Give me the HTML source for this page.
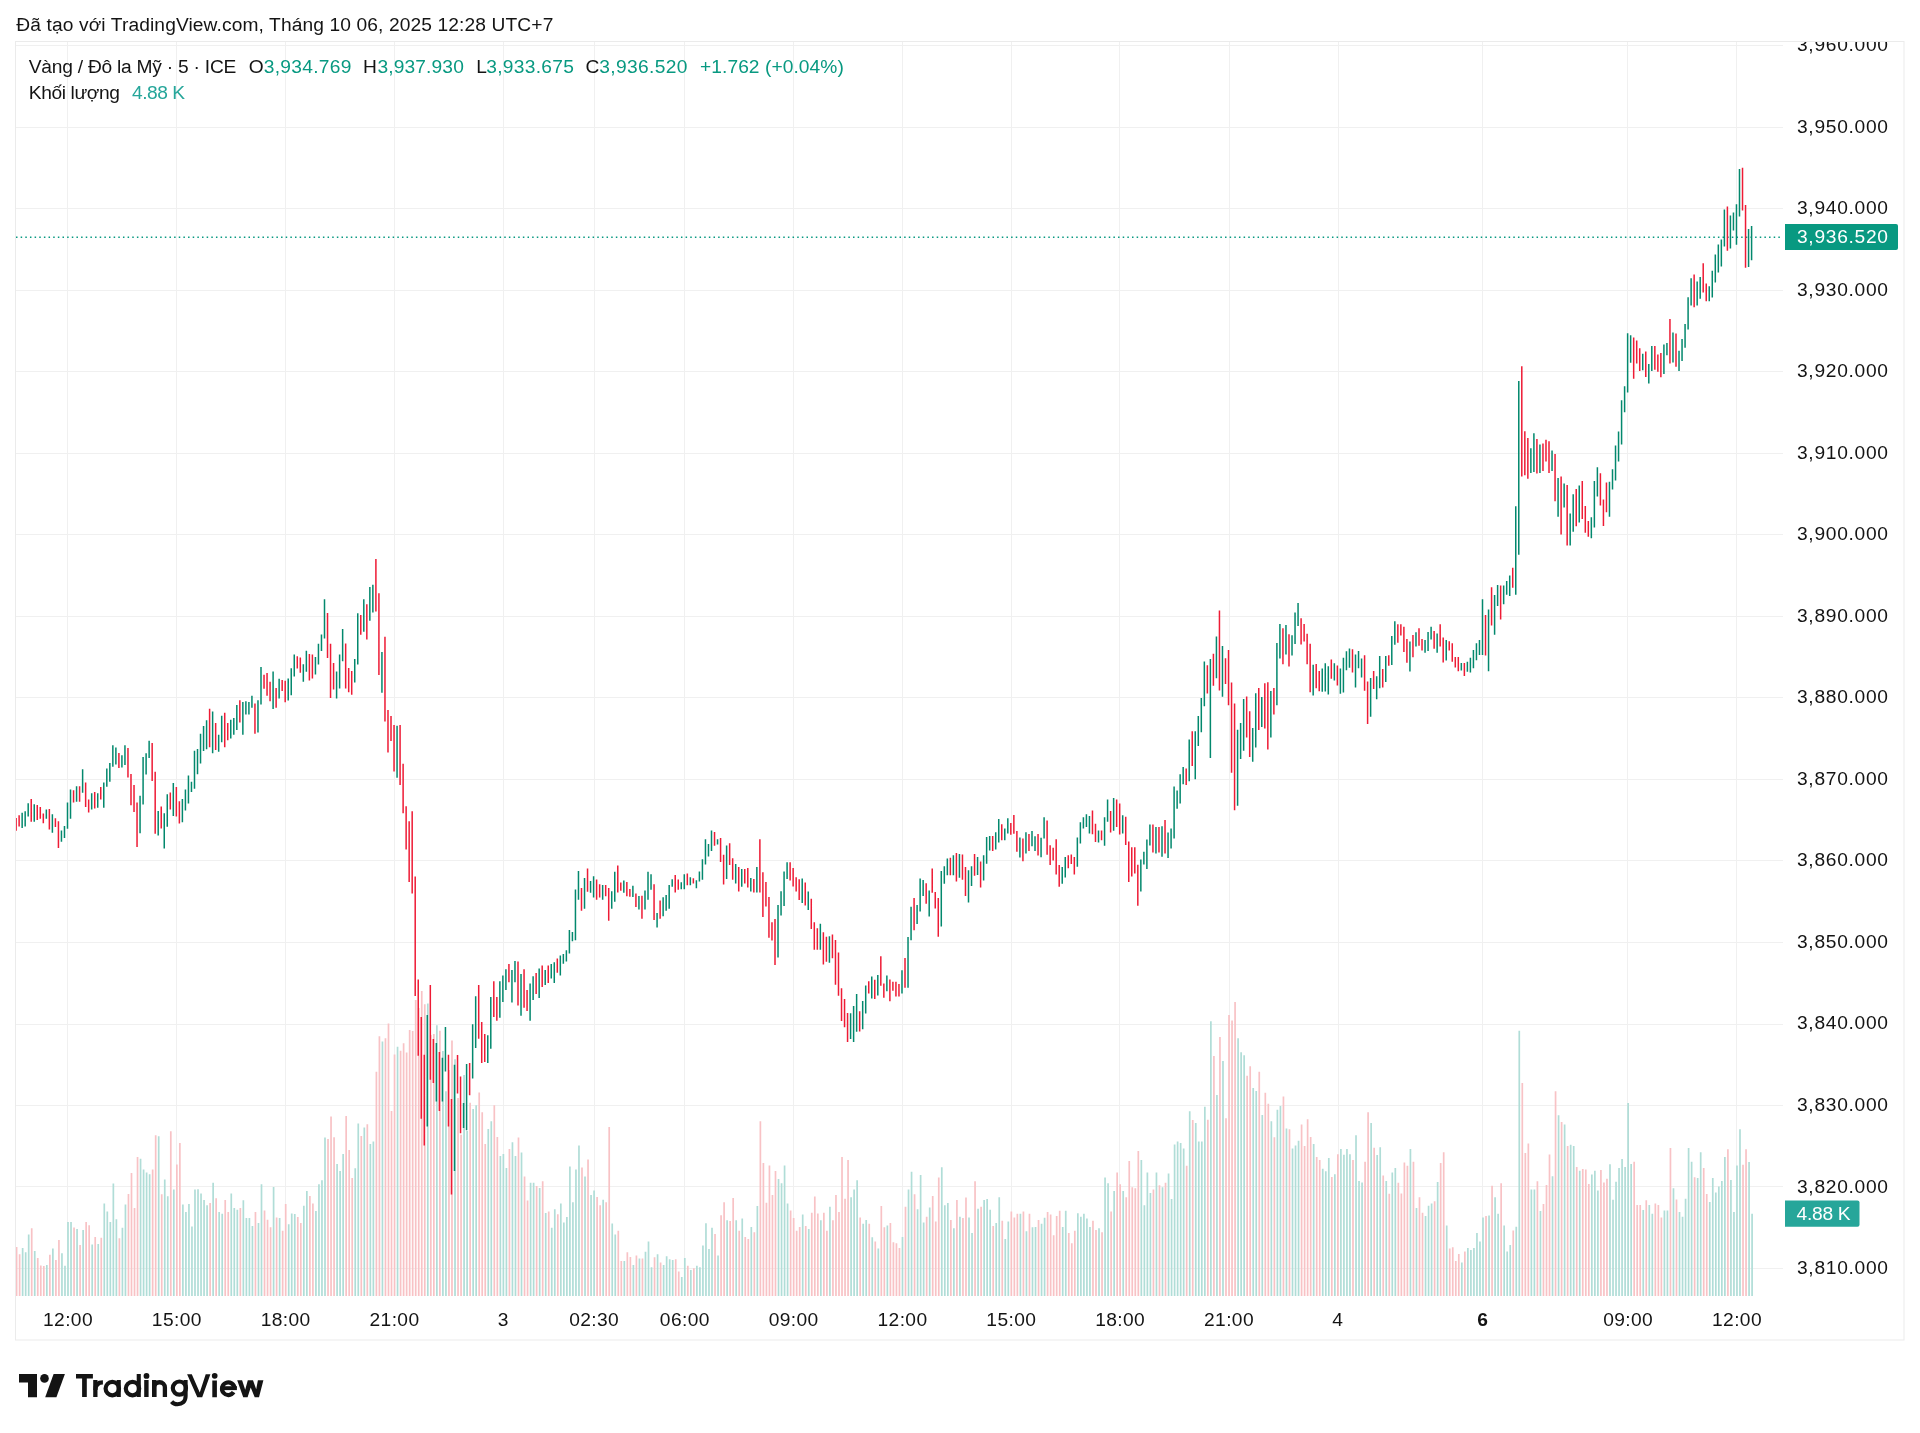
<!DOCTYPE html>
<html><head><meta charset="utf-8"><title>XAUUSD</title><style>
html,body{margin:0;padding:0;background:#fff;width:1920px;height:1433px;overflow:hidden}
svg{position:absolute;left:0;top:0;will-change:transform}
text{font-family:"Liberation Sans",sans-serif}
</style></head><body>
<svg width="1920" height="1433" viewBox="0 0 1920 1433">
<rect width="1920" height="1433" fill="#fff"/>
<text x="16.3" y="30.9" font-size="19.2" fill="#141414" textLength="537" lengthAdjust="spacing">Đã tạo với TradingView.com, Tháng 10 06, 2025 12:28 UTC+7</text>
<rect x="15.5" y="41.5" width="1888.5" height="1298.5" fill="none" stroke="#EBEBEB" stroke-width="1"/>
<clipPath id="pane"><rect x="16" y="42" width="1767" height="1254"/></clipPath>
<clipPath id="axis"><rect x="1783" y="42" width="121" height="1297"/></clipPath>
<path d="M16 45.5H1783 M16 127.5H1783 M16 208.5H1783 M16 290.5H1783 M16 371.5H1783 M16 453.5H1783 M16 534.5H1783 M16 616.5H1783 M16 697.5H1783 M16 779.5H1783 M16 860.5H1783 M16 942.5H1783 M16 1024.5H1783 M16 1105.5H1783 M16 1186.5H1783 M16 1268.5H1783 M67.5 42V1296 M176.5 42V1296 M285.5 42V1296 M394.5 42V1296 M503.5 42V1296 M594.5 42V1296 M684.5 42V1296 M793.5 42V1296 M902.5 42V1296 M1011.5 42V1296 M1119.5 42V1296 M1229.5 42V1296 M1338.5 42V1296 M1482.5 42V1296 M1627.5 42V1296 M1736.5 42V1296" stroke="#F0F0F0" stroke-width="1" fill="none"/>
<g clip-path="url(#pane)">
<path d="M21.80 1248.1h1.7V1296h-1.7ZM24.82 1252.2h1.7V1296h-1.7ZM27.84 1234.6h1.7V1296h-1.7ZM33.89 1250.9h1.7V1296h-1.7ZM45.98 1265.1h1.7V1296h-1.7ZM52.03 1248.4h1.7V1296h-1.7ZM61.10 1253.2h1.7V1296h-1.7ZM64.13 1265.7h1.7V1296h-1.7ZM67.15 1222.0h1.7V1296h-1.7ZM70.17 1222.0h1.7V1296h-1.7ZM76.22 1229.0h1.7V1296h-1.7ZM82.27 1229.9h1.7V1296h-1.7ZM91.34 1244.6h1.7V1296h-1.7ZM97.38 1244.1h1.7V1296h-1.7ZM103.43 1203.5h1.7V1296h-1.7ZM106.46 1211.5h1.7V1296h-1.7ZM109.48 1222.0h1.7V1296h-1.7ZM112.50 1183.4h1.7V1296h-1.7ZM115.53 1219.2h1.7V1296h-1.7ZM121.57 1227.8h1.7V1296h-1.7ZM124.60 1204.4h1.7V1296h-1.7ZM139.71 1158.8h1.7V1296h-1.7ZM142.74 1169.4h1.7V1296h-1.7ZM145.76 1172.6h1.7V1296h-1.7ZM148.78 1174.3h1.7V1296h-1.7ZM157.85 1136.3h1.7V1296h-1.7ZM163.90 1179.6h1.7V1296h-1.7ZM166.92 1196.2h1.7V1296h-1.7ZM172.97 1189.6h1.7V1296h-1.7ZM182.04 1204.4h1.7V1296h-1.7ZM185.07 1212.1h1.7V1296h-1.7ZM188.09 1203.9h1.7V1296h-1.7ZM191.11 1226.4h1.7V1296h-1.7ZM194.14 1189.6h1.7V1296h-1.7ZM197.16 1189.3h1.7V1296h-1.7ZM200.18 1193.5h1.7V1296h-1.7ZM203.21 1199.9h1.7V1296h-1.7ZM206.23 1205.2h1.7V1296h-1.7ZM212.28 1182.7h1.7V1296h-1.7ZM218.32 1212.1h1.7V1296h-1.7ZM221.35 1213.7h1.7V1296h-1.7ZM230.42 1193.5h1.7V1296h-1.7ZM233.44 1208.1h1.7V1296h-1.7ZM236.47 1209.7h1.7V1296h-1.7ZM242.51 1200.2h1.7V1296h-1.7ZM245.54 1218.1h1.7V1296h-1.7ZM248.56 1218.1h1.7V1296h-1.7ZM251.58 1226.0h1.7V1296h-1.7ZM257.63 1223.0h1.7V1296h-1.7ZM260.65 1184.3h1.7V1296h-1.7ZM272.75 1186.9h1.7V1296h-1.7ZM278.79 1218.1h1.7V1296h-1.7ZM287.87 1224.3h1.7V1296h-1.7ZM290.89 1213.4h1.7V1296h-1.7ZM293.91 1214.1h1.7V1296h-1.7ZM302.98 1205.7h1.7V1296h-1.7ZM306.01 1191.1h1.7V1296h-1.7ZM315.08 1211.0h1.7V1296h-1.7ZM318.10 1184.3h1.7V1296h-1.7ZM321.12 1180.3h1.7V1296h-1.7ZM324.15 1137.6h1.7V1296h-1.7ZM336.24 1164.1h1.7V1296h-1.7ZM339.26 1171.0h1.7V1296h-1.7ZM342.29 1154.0h1.7V1296h-1.7ZM354.38 1168.3h1.7V1296h-1.7ZM357.41 1123.5h1.7V1296h-1.7ZM363.45 1127.5h1.7V1296h-1.7ZM369.50 1144.0h1.7V1296h-1.7ZM372.52 1141.4h1.7V1296h-1.7ZM381.59 1041.4h1.7V1296h-1.7ZM396.71 1046.8h1.7V1296h-1.7ZM436.02 1025.2h1.7V1296h-1.7ZM426.95 1003.4h1.7V1296h-1.7ZM442.06 1050.9h1.7V1296h-1.7ZM445.09 1091.2h1.7V1296h-1.7ZM454.16 1059.3h1.7V1296h-1.7ZM463.23 1075.0h1.7V1296h-1.7ZM466.25 1131.0h1.7V1296h-1.7ZM472.30 1109.0h1.7V1296h-1.7ZM475.32 1105.2h1.7V1296h-1.7ZM487.42 1128.9h1.7V1296h-1.7ZM490.44 1121.3h1.7V1296h-1.7ZM499.51 1156.1h1.7V1296h-1.7ZM502.53 1154.0h1.7V1296h-1.7ZM505.56 1168.0h1.7V1296h-1.7ZM511.60 1142.2h1.7V1296h-1.7ZM514.63 1156.1h1.7V1296h-1.7ZM520.67 1152.4h1.7V1296h-1.7ZM529.75 1182.8h1.7V1296h-1.7ZM532.77 1182.8h1.7V1296h-1.7ZM538.82 1188.1h1.7V1296h-1.7ZM544.86 1213.0h1.7V1296h-1.7ZM550.91 1227.8h1.7V1296h-1.7ZM553.93 1209.2h1.7V1296h-1.7ZM559.98 1203.5h1.7V1296h-1.7ZM563.00 1222.4h1.7V1296h-1.7ZM566.03 1217.0h1.7V1296h-1.7ZM569.05 1166.5h1.7V1296h-1.7ZM572.07 1202.3h1.7V1296h-1.7ZM575.10 1169.6h1.7V1296h-1.7ZM578.12 1145.4h1.7V1296h-1.7ZM584.17 1176.5h1.7V1296h-1.7ZM590.21 1195.1h1.7V1296h-1.7ZM593.24 1190.4h1.7V1296h-1.7ZM602.31 1199.8h1.7V1296h-1.7ZM611.38 1223.6h1.7V1296h-1.7ZM614.40 1234.6h1.7V1296h-1.7ZM623.47 1261.0h1.7V1296h-1.7ZM632.54 1265.1h1.7V1296h-1.7ZM638.59 1258.4h1.7V1296h-1.7ZM644.64 1251.7h1.7V1296h-1.7ZM647.66 1241.6h1.7V1296h-1.7ZM650.68 1267.2h1.7V1296h-1.7ZM656.73 1254.2h1.7V1296h-1.7ZM662.78 1265.1h1.7V1296h-1.7ZM665.80 1256.3h1.7V1296h-1.7ZM668.83 1259.2h1.7V1296h-1.7ZM671.85 1260.1h1.7V1296h-1.7ZM680.92 1277.0h1.7V1296h-1.7ZM683.94 1257.9h1.7V1296h-1.7ZM689.99 1270.1h1.7V1296h-1.7ZM696.04 1265.7h1.7V1296h-1.7ZM699.06 1267.2h1.7V1296h-1.7ZM702.08 1245.4h1.7V1296h-1.7ZM705.11 1223.3h1.7V1296h-1.7ZM708.13 1249.1h1.7V1296h-1.7ZM711.15 1227.8h1.7V1296h-1.7ZM717.20 1255.4h1.7V1296h-1.7ZM726.27 1220.3h1.7V1296h-1.7ZM735.34 1220.3h1.7V1296h-1.7ZM741.39 1218.6h1.7V1296h-1.7ZM750.46 1226.9h1.7V1296h-1.7ZM756.51 1206.1h1.7V1296h-1.7ZM777.67 1178.9h1.7V1296h-1.7ZM780.70 1183.2h1.7V1296h-1.7ZM783.72 1165.4h1.7V1296h-1.7ZM786.74 1203.5h1.7V1296h-1.7ZM801.86 1214.5h1.7V1296h-1.7ZM807.91 1229.1h1.7V1296h-1.7ZM820.00 1220.3h1.7V1296h-1.7ZM829.07 1206.8h1.7V1296h-1.7ZM850.24 1197.2h1.7V1296h-1.7ZM853.26 1189.6h1.7V1296h-1.7ZM856.28 1180.3h1.7V1296h-1.7ZM862.33 1223.8h1.7V1296h-1.7ZM865.35 1220.1h1.7V1296h-1.7ZM871.40 1237.3h1.7V1296h-1.7ZM877.45 1248.6h1.7V1296h-1.7ZM886.52 1225.4h1.7V1296h-1.7ZM901.64 1237.0h1.7V1296h-1.7ZM907.68 1189.6h1.7V1296h-1.7ZM910.71 1171.7h1.7V1296h-1.7ZM916.75 1209.2h1.7V1296h-1.7ZM919.78 1175.0h1.7V1296h-1.7ZM922.80 1222.4h1.7V1296h-1.7ZM928.85 1207.5h1.7V1296h-1.7ZM940.94 1167.3h1.7V1296h-1.7ZM943.96 1205.2h1.7V1296h-1.7ZM946.99 1203.1h1.7V1296h-1.7ZM953.03 1228.3h1.7V1296h-1.7ZM959.08 1216.7h1.7V1296h-1.7ZM968.15 1217.4h1.7V1296h-1.7ZM971.18 1233.0h1.7V1296h-1.7ZM977.22 1208.8h1.7V1296h-1.7ZM983.27 1199.9h1.7V1296h-1.7ZM986.29 1199.1h1.7V1296h-1.7ZM989.32 1209.7h1.7V1296h-1.7ZM995.36 1223.0h1.7V1296h-1.7ZM998.39 1197.2h1.7V1296h-1.7ZM1004.43 1238.9h1.7V1296h-1.7ZM1007.46 1221.4h1.7V1296h-1.7ZM1019.55 1213.7h1.7V1296h-1.7ZM1025.60 1231.3h1.7V1296h-1.7ZM1031.65 1227.3h1.7V1296h-1.7ZM1034.67 1226.9h1.7V1296h-1.7ZM1040.72 1223.8h1.7V1296h-1.7ZM1043.74 1217.7h1.7V1296h-1.7ZM1061.88 1226.9h1.7V1296h-1.7ZM1064.90 1210.8h1.7V1296h-1.7ZM1077.00 1213.2h1.7V1296h-1.7ZM1080.02 1216.7h1.7V1296h-1.7ZM1083.05 1213.7h1.7V1296h-1.7ZM1086.07 1218.5h1.7V1296h-1.7ZM1089.09 1226.9h1.7V1296h-1.7ZM1098.16 1228.3h1.7V1296h-1.7ZM1104.21 1177.4h1.7V1296h-1.7ZM1107.23 1183.2h1.7V1296h-1.7ZM1113.28 1191.1h1.7V1296h-1.7ZM1122.35 1191.1h1.7V1296h-1.7ZM1140.49 1160.1h1.7V1296h-1.7ZM1143.52 1205.2h1.7V1296h-1.7ZM1146.54 1172.6h1.7V1296h-1.7ZM1149.56 1192.9h1.7V1296h-1.7ZM1155.61 1172.6h1.7V1296h-1.7ZM1161.66 1187.2h1.7V1296h-1.7ZM1167.70 1173.4h1.7V1296h-1.7ZM1170.73 1199.1h1.7V1296h-1.7ZM1173.75 1144.5h1.7V1296h-1.7ZM1176.77 1141.6h1.7V1296h-1.7ZM1179.80 1143.1h1.7V1296h-1.7ZM1182.82 1148.5h1.7V1296h-1.7ZM1188.87 1111.3h1.7V1296h-1.7ZM1194.91 1123.0h1.7V1296h-1.7ZM1197.94 1141.6h1.7V1296h-1.7ZM1200.96 1141.6h1.7V1296h-1.7ZM1203.99 1106.7h1.7V1296h-1.7ZM1210.03 1021.3h1.7V1296h-1.7ZM1216.08 1095.0h1.7V1296h-1.7ZM1222.13 1060.9h1.7V1296h-1.7ZM1237.24 1038.2h1.7V1296h-1.7ZM1240.27 1052.3h1.7V1296h-1.7ZM1243.29 1055.3h1.7V1296h-1.7ZM1252.36 1088.0h1.7V1296h-1.7ZM1255.38 1091.0h1.7V1296h-1.7ZM1261.43 1115.1h1.7V1296h-1.7ZM1270.50 1121.2h1.7V1296h-1.7ZM1276.55 1109.7h1.7V1296h-1.7ZM1279.57 1105.9h1.7V1296h-1.7ZM1285.62 1128.6h1.7V1296h-1.7ZM1291.67 1148.6h1.7V1296h-1.7ZM1294.69 1145.4h1.7V1296h-1.7ZM1297.71 1140.8h1.7V1296h-1.7ZM1312.83 1144.0h1.7V1296h-1.7ZM1321.90 1168.7h1.7V1296h-1.7ZM1324.93 1171.2h1.7V1296h-1.7ZM1327.95 1157.9h1.7V1296h-1.7ZM1334.00 1174.2h1.7V1296h-1.7ZM1340.04 1149.1h1.7V1296h-1.7ZM1343.07 1154.7h1.7V1296h-1.7ZM1346.09 1149.1h1.7V1296h-1.7ZM1349.11 1154.2h1.7V1296h-1.7ZM1355.16 1135.2h1.7V1296h-1.7ZM1358.18 1180.9h1.7V1296h-1.7ZM1361.21 1182.6h1.7V1296h-1.7ZM1370.28 1123.0h1.7V1296h-1.7ZM1376.33 1155.1h1.7V1296h-1.7ZM1379.35 1147.2h1.7V1296h-1.7ZM1385.40 1180.9h1.7V1296h-1.7ZM1391.44 1172.6h1.7V1296h-1.7ZM1394.47 1168.1h1.7V1296h-1.7ZM1409.58 1149.1h1.7V1296h-1.7ZM1415.63 1208.1h1.7V1296h-1.7ZM1424.70 1216.1h1.7V1296h-1.7ZM1427.72 1205.7h1.7V1296h-1.7ZM1430.75 1203.5h1.7V1296h-1.7ZM1436.79 1181.9h1.7V1296h-1.7ZM1445.87 1225.4h1.7V1296h-1.7ZM1460.98 1262.5h1.7V1296h-1.7ZM1467.03 1247.9h1.7V1296h-1.7ZM1470.05 1249.9h1.7V1296h-1.7ZM1473.08 1247.9h1.7V1296h-1.7ZM1476.10 1233.0h1.7V1296h-1.7ZM1479.12 1241.5h1.7V1296h-1.7ZM1482.15 1217.4h1.7V1296h-1.7ZM1488.19 1215.4h1.7V1296h-1.7ZM1494.24 1197.2h1.7V1296h-1.7ZM1497.26 1213.7h1.7V1296h-1.7ZM1503.31 1225.4h1.7V1296h-1.7ZM1506.34 1251.6h1.7V1296h-1.7ZM1509.36 1245.0h1.7V1296h-1.7ZM1515.41 1226.7h1.7V1296h-1.7ZM1518.43 1030.7h1.7V1296h-1.7ZM1530.52 1189.6h1.7V1296h-1.7ZM1533.55 1189.6h1.7V1296h-1.7ZM1539.59 1211.1h1.7V1296h-1.7ZM1551.69 1176.3h1.7V1296h-1.7ZM1557.73 1115.3h1.7V1296h-1.7ZM1563.78 1124.5h1.7V1296h-1.7ZM1569.83 1144.7h1.7V1296h-1.7ZM1572.85 1146.0h1.7V1296h-1.7ZM1578.90 1170.8h1.7V1296h-1.7ZM1590.99 1174.4h1.7V1296h-1.7ZM1594.02 1170.8h1.7V1296h-1.7ZM1597.04 1190.4h1.7V1296h-1.7ZM1609.13 1164.2h1.7V1296h-1.7ZM1612.16 1199.8h1.7V1296h-1.7ZM1615.18 1181.8h1.7V1296h-1.7ZM1618.20 1168.1h1.7V1296h-1.7ZM1621.23 1159.1h1.7V1296h-1.7ZM1624.25 1166.9h1.7V1296h-1.7ZM1627.28 1102.9h1.7V1296h-1.7ZM1630.30 1164.0h1.7V1296h-1.7ZM1642.39 1209.9h1.7V1296h-1.7ZM1648.44 1205.0h1.7V1296h-1.7ZM1651.46 1213.8h1.7V1296h-1.7ZM1663.56 1210.5h1.7V1296h-1.7ZM1666.58 1210.5h1.7V1296h-1.7ZM1672.63 1188.2h1.7V1296h-1.7ZM1678.67 1211.9h1.7V1296h-1.7ZM1681.70 1216.8h1.7V1296h-1.7ZM1684.72 1198.7h1.7V1296h-1.7ZM1687.75 1147.9h1.7V1296h-1.7ZM1690.77 1161.8h1.7V1296h-1.7ZM1696.82 1177.9h1.7V1296h-1.7ZM1699.84 1152.3h1.7V1296h-1.7ZM1708.91 1202.1h1.7V1296h-1.7ZM1711.93 1177.9h1.7V1296h-1.7ZM1714.96 1192.6h1.7V1296h-1.7ZM1717.98 1186.4h1.7V1296h-1.7ZM1721.00 1181.1h1.7V1296h-1.7ZM1724.03 1157.1h1.7V1296h-1.7ZM1730.07 1180.1h1.7V1296h-1.7ZM1733.10 1211.9h1.7V1296h-1.7ZM1736.12 1165.5h1.7V1296h-1.7ZM1739.14 1129.3h1.7V1296h-1.7ZM1748.22 1162.1h1.7V1296h-1.7ZM1751.24 1213.8h1.7V1296h-1.7Z" fill="#B0DDD7"/>
<path d="M15.75 1247.1h1.7V1296h-1.7ZM18.77 1254.2h1.7V1296h-1.7ZM30.87 1228.3h1.7V1296h-1.7ZM36.91 1257.9h1.7V1296h-1.7ZM39.94 1265.5h1.7V1296h-1.7ZM42.96 1266.0h1.7V1296h-1.7ZM49.01 1254.7h1.7V1296h-1.7ZM55.06 1260.1h1.7V1296h-1.7ZM58.08 1240.0h1.7V1296h-1.7ZM73.20 1227.4h1.7V1296h-1.7ZM79.24 1245.0h1.7V1296h-1.7ZM85.29 1222.0h1.7V1296h-1.7ZM88.31 1225.3h1.7V1296h-1.7ZM94.36 1237.1h1.7V1296h-1.7ZM100.41 1237.8h1.7V1296h-1.7ZM118.55 1238.3h1.7V1296h-1.7ZM127.62 1194.1h1.7V1296h-1.7ZM130.64 1173.0h1.7V1296h-1.7ZM133.67 1208.1h1.7V1296h-1.7ZM136.69 1157.1h1.7V1296h-1.7ZM151.81 1169.4h1.7V1296h-1.7ZM154.83 1135.2h1.7V1296h-1.7ZM160.88 1194.2h1.7V1296h-1.7ZM169.95 1131.2h1.7V1296h-1.7ZM176.00 1164.6h1.7V1296h-1.7ZM179.02 1143.1h1.7V1296h-1.7ZM209.25 1203.1h1.7V1296h-1.7ZM215.30 1198.2h1.7V1296h-1.7ZM224.37 1199.9h1.7V1296h-1.7ZM227.39 1212.1h1.7V1296h-1.7ZM239.49 1208.1h1.7V1296h-1.7ZM254.61 1212.1h1.7V1296h-1.7ZM263.68 1210.5h1.7V1296h-1.7ZM266.70 1219.8h1.7V1296h-1.7ZM269.72 1227.3h1.7V1296h-1.7ZM275.77 1217.4h1.7V1296h-1.7ZM281.82 1230.7h1.7V1296h-1.7ZM284.84 1204.1h1.7V1296h-1.7ZM296.94 1217.1h1.7V1296h-1.7ZM299.96 1223.0h1.7V1296h-1.7ZM309.03 1195.9h1.7V1296h-1.7ZM312.05 1203.5h1.7V1296h-1.7ZM327.17 1138.9h1.7V1296h-1.7ZM330.19 1116.6h1.7V1296h-1.7ZM333.22 1137.2h1.7V1296h-1.7ZM345.31 1116.0h1.7V1296h-1.7ZM348.33 1150.0h1.7V1296h-1.7ZM351.36 1177.9h1.7V1296h-1.7ZM360.43 1135.9h1.7V1296h-1.7ZM366.48 1124.3h1.7V1296h-1.7ZM375.55 1071.8h1.7V1296h-1.7ZM378.57 1036.2h1.7V1296h-1.7ZM384.62 1038.3h1.7V1296h-1.7ZM387.64 1023.6h1.7V1296h-1.7ZM390.66 1111.0h1.7V1296h-1.7ZM393.69 1054.5h1.7V1296h-1.7ZM399.73 1050.8h1.7V1296h-1.7ZM402.76 1043.3h1.7V1296h-1.7ZM405.78 1052.4h1.7V1296h-1.7ZM408.81 1029.9h1.7V1296h-1.7ZM411.83 1030.9h1.7V1296h-1.7ZM432.99 1033.9h1.7V1296h-1.7ZM439.04 1030.7h1.7V1296h-1.7ZM414.85 1000.0h1.7V1296h-1.7ZM417.88 1008.0h1.7V1296h-1.7ZM420.90 991.0h1.7V1296h-1.7ZM423.92 1004.2h1.7V1296h-1.7ZM429.97 1035.0h1.7V1296h-1.7ZM448.11 1070.0h1.7V1296h-1.7ZM451.13 1040.5h1.7V1296h-1.7ZM457.18 1098.0h1.7V1296h-1.7ZM460.20 1134.7h1.7V1296h-1.7ZM469.27 1102.8h1.7V1296h-1.7ZM478.35 1092.6h1.7V1296h-1.7ZM481.37 1112.2h1.7V1296h-1.7ZM484.39 1143.9h1.7V1296h-1.7ZM493.46 1105.2h1.7V1296h-1.7ZM496.49 1137.0h1.7V1296h-1.7ZM508.58 1149.1h1.7V1296h-1.7ZM517.65 1137.6h1.7V1296h-1.7ZM523.70 1176.5h1.7V1296h-1.7ZM526.72 1200.4h1.7V1296h-1.7ZM535.79 1186.0h1.7V1296h-1.7ZM541.84 1181.3h1.7V1296h-1.7ZM547.89 1211.5h1.7V1296h-1.7ZM556.96 1214.2h1.7V1296h-1.7ZM581.14 1167.5h1.7V1296h-1.7ZM587.19 1159.6h1.7V1296h-1.7ZM596.26 1196.9h1.7V1296h-1.7ZM599.29 1205.2h1.7V1296h-1.7ZM605.33 1202.3h1.7V1296h-1.7ZM608.36 1126.9h1.7V1296h-1.7ZM617.43 1230.8h1.7V1296h-1.7ZM620.45 1261.0h1.7V1296h-1.7ZM626.50 1252.2h1.7V1296h-1.7ZM629.52 1256.9h1.7V1296h-1.7ZM635.57 1255.4h1.7V1296h-1.7ZM641.61 1258.4h1.7V1296h-1.7ZM653.71 1257.2h1.7V1296h-1.7ZM659.76 1262.6h1.7V1296h-1.7ZM674.87 1259.2h1.7V1296h-1.7ZM677.90 1271.4h1.7V1296h-1.7ZM686.97 1265.7h1.7V1296h-1.7ZM693.01 1268.2h1.7V1296h-1.7ZM714.18 1234.1h1.7V1296h-1.7ZM720.23 1215.2h1.7V1296h-1.7ZM723.25 1202.3h1.7V1296h-1.7ZM729.30 1221.1h1.7V1296h-1.7ZM732.32 1198.1h1.7V1296h-1.7ZM738.37 1230.8h1.7V1296h-1.7ZM744.41 1237.1h1.7V1296h-1.7ZM747.44 1238.9h1.7V1296h-1.7ZM753.48 1232.2h1.7V1296h-1.7ZM759.53 1121.3h1.7V1296h-1.7ZM762.55 1163.0h1.7V1296h-1.7ZM765.58 1202.8h1.7V1296h-1.7ZM768.60 1165.4h1.7V1296h-1.7ZM771.62 1194.9h1.7V1296h-1.7ZM774.65 1171.0h1.7V1296h-1.7ZM789.77 1210.5h1.7V1296h-1.7ZM792.79 1218.1h1.7V1296h-1.7ZM795.81 1230.7h1.7V1296h-1.7ZM798.84 1226.9h1.7V1296h-1.7ZM804.88 1226.0h1.7V1296h-1.7ZM810.93 1212.8h1.7V1296h-1.7ZM813.95 1196.4h1.7V1296h-1.7ZM816.98 1213.4h1.7V1296h-1.7ZM823.02 1212.8h1.7V1296h-1.7ZM826.05 1230.7h1.7V1296h-1.7ZM832.09 1220.3h1.7V1296h-1.7ZM835.12 1195.1h1.7V1296h-1.7ZM838.14 1212.1h1.7V1296h-1.7ZM841.17 1157.1h1.7V1296h-1.7ZM844.19 1198.8h1.7V1296h-1.7ZM847.21 1160.1h1.7V1296h-1.7ZM859.31 1217.4h1.7V1296h-1.7ZM868.38 1223.8h1.7V1296h-1.7ZM874.42 1241.5h1.7V1296h-1.7ZM880.47 1206.1h1.7V1296h-1.7ZM883.49 1227.3h1.7V1296h-1.7ZM889.54 1223.0h1.7V1296h-1.7ZM892.56 1242.3h1.7V1296h-1.7ZM895.59 1243.3h1.7V1296h-1.7ZM898.61 1247.9h1.7V1296h-1.7ZM904.66 1206.8h1.7V1296h-1.7ZM913.73 1194.2h1.7V1296h-1.7ZM925.82 1216.7h1.7V1296h-1.7ZM931.87 1195.9h1.7V1296h-1.7ZM934.89 1221.4h1.7V1296h-1.7ZM937.92 1177.4h1.7V1296h-1.7ZM950.01 1220.1h1.7V1296h-1.7ZM956.06 1199.9h1.7V1296h-1.7ZM962.11 1218.1h1.7V1296h-1.7ZM965.13 1197.5h1.7V1296h-1.7ZM974.20 1181.3h1.7V1296h-1.7ZM980.25 1206.8h1.7V1296h-1.7ZM992.34 1226.0h1.7V1296h-1.7ZM1001.41 1220.7h1.7V1296h-1.7ZM1010.48 1211.4h1.7V1296h-1.7ZM1013.50 1217.4h1.7V1296h-1.7ZM1016.53 1213.7h1.7V1296h-1.7ZM1022.58 1211.4h1.7V1296h-1.7ZM1028.62 1213.7h1.7V1296h-1.7ZM1037.69 1220.1h1.7V1296h-1.7ZM1046.76 1212.1h1.7V1296h-1.7ZM1049.79 1214.5h1.7V1296h-1.7ZM1052.81 1235.3h1.7V1296h-1.7ZM1055.83 1216.1h1.7V1296h-1.7ZM1058.86 1210.8h1.7V1296h-1.7ZM1067.93 1233.0h1.7V1296h-1.7ZM1070.95 1243.3h1.7V1296h-1.7ZM1073.97 1230.7h1.7V1296h-1.7ZM1092.12 1220.7h1.7V1296h-1.7ZM1095.14 1230.0h1.7V1296h-1.7ZM1101.19 1232.2h1.7V1296h-1.7ZM1110.26 1211.4h1.7V1296h-1.7ZM1116.30 1172.6h1.7V1296h-1.7ZM1119.33 1184.3h1.7V1296h-1.7ZM1125.37 1197.2h1.7V1296h-1.7ZM1128.40 1161.0h1.7V1296h-1.7ZM1131.42 1187.2h1.7V1296h-1.7ZM1134.44 1188.2h1.7V1296h-1.7ZM1137.47 1151.1h1.7V1296h-1.7ZM1152.59 1189.6h1.7V1296h-1.7ZM1158.63 1185.3h1.7V1296h-1.7ZM1164.68 1182.7h1.7V1296h-1.7ZM1185.84 1165.7h1.7V1296h-1.7ZM1191.89 1119.9h1.7V1296h-1.7ZM1207.01 1119.7h1.7V1296h-1.7ZM1213.06 1056.1h1.7V1296h-1.7ZM1219.10 1036.9h1.7V1296h-1.7ZM1225.15 1118.2h1.7V1296h-1.7ZM1228.17 1015.1h1.7V1296h-1.7ZM1231.20 1020.4h1.7V1296h-1.7ZM1234.22 1002.1h1.7V1296h-1.7ZM1246.31 1075.8h1.7V1296h-1.7ZM1249.34 1066.2h1.7V1296h-1.7ZM1258.41 1071.7h1.7V1296h-1.7ZM1264.46 1092.7h1.7V1296h-1.7ZM1267.48 1103.7h1.7V1296h-1.7ZM1273.53 1137.2h1.7V1296h-1.7ZM1282.60 1096.6h1.7V1296h-1.7ZM1288.64 1129.3h1.7V1296h-1.7ZM1300.74 1124.4h1.7V1296h-1.7ZM1303.76 1146.1h1.7V1296h-1.7ZM1306.78 1119.3h1.7V1296h-1.7ZM1309.81 1137.0h1.7V1296h-1.7ZM1315.86 1156.9h1.7V1296h-1.7ZM1318.88 1160.0h1.7V1296h-1.7ZM1330.97 1177.0h1.7V1296h-1.7ZM1337.02 1154.2h1.7V1296h-1.7ZM1352.14 1160.0h1.7V1296h-1.7ZM1364.23 1161.7h1.7V1296h-1.7ZM1367.25 1112.3h1.7V1296h-1.7ZM1373.30 1147.7h1.7V1296h-1.7ZM1382.37 1175.6h1.7V1296h-1.7ZM1388.42 1193.8h1.7V1296h-1.7ZM1400.51 1193.5h1.7V1296h-1.7ZM1403.54 1162.4h1.7V1296h-1.7ZM1406.56 1165.7h1.7V1296h-1.7ZM1412.61 1161.7h1.7V1296h-1.7ZM1418.65 1197.2h1.7V1296h-1.7ZM1421.68 1212.8h1.7V1296h-1.7ZM1433.77 1201.2h1.7V1296h-1.7ZM1439.82 1163.0h1.7V1296h-1.7ZM1442.84 1152.2h1.7V1296h-1.7ZM1448.89 1248.6h1.7V1296h-1.7ZM1451.91 1247.2h1.7V1296h-1.7ZM1454.94 1260.9h1.7V1296h-1.7ZM1457.96 1253.9h1.7V1296h-1.7ZM1464.01 1251.6h1.7V1296h-1.7ZM1485.17 1216.1h1.7V1296h-1.7ZM1491.22 1185.8h1.7V1296h-1.7ZM1500.29 1183.2h1.7V1296h-1.7ZM1397.49 1182.7h1.7V1296h-1.7ZM1512.38 1230.6h1.7V1296h-1.7ZM1521.45 1082.9h1.7V1296h-1.7ZM1524.48 1152.9h1.7V1296h-1.7ZM1527.50 1143.5h1.7V1296h-1.7ZM1536.57 1181.2h1.7V1296h-1.7ZM1542.62 1204.1h1.7V1296h-1.7ZM1545.64 1185.1h1.7V1296h-1.7ZM1548.66 1154.4h1.7V1296h-1.7ZM1554.71 1091.3h1.7V1296h-1.7ZM1560.76 1122.0h1.7V1296h-1.7ZM1566.81 1146.0h1.7V1296h-1.7ZM1575.88 1166.9h1.7V1296h-1.7ZM1581.92 1168.9h1.7V1296h-1.7ZM1584.95 1169.5h1.7V1296h-1.7ZM1587.97 1184.1h1.7V1296h-1.7ZM1600.06 1170.1h1.7V1296h-1.7ZM1603.09 1182.6h1.7V1296h-1.7ZM1606.11 1178.7h1.7V1296h-1.7ZM1633.32 1161.8h1.7V1296h-1.7ZM1636.35 1205.0h1.7V1296h-1.7ZM1639.37 1205.0h1.7V1296h-1.7ZM1645.42 1200.2h1.7V1296h-1.7ZM1654.49 1203.6h1.7V1296h-1.7ZM1657.51 1205.0h1.7V1296h-1.7ZM1660.53 1217.5h1.7V1296h-1.7ZM1669.60 1147.9h1.7V1296h-1.7ZM1675.65 1199.6h1.7V1296h-1.7ZM1693.79 1177.2h1.7V1296h-1.7ZM1702.86 1168.0h1.7V1296h-1.7ZM1705.89 1194.0h1.7V1296h-1.7ZM1727.05 1149.3h1.7V1296h-1.7ZM1742.17 1164.7h1.7V1296h-1.7ZM1745.19 1149.3h1.7V1296h-1.7Z" fill="#F8C2C5"/>
<line x1="16" y1="237.2" x2="1783" y2="237.2" stroke="#089981" stroke-width="1.5" stroke-dasharray="1.5 3.15"/>
<path d="M21.40 812.7h1.5V828.0h-1.5ZM24.42 811.2h1.5V826.6h-1.5ZM27.44 803.3h1.5V816.6h-1.5ZM33.49 804.2h1.5V821.8h-1.5ZM45.59 809.5h1.5V818.7h-1.5ZM51.63 814.2h1.5V832.7h-1.5ZM60.70 830.5h1.5V841.7h-1.5ZM63.73 826.0h1.5V837.9h-1.5ZM66.75 802.6h1.5V828.7h-1.5ZM69.77 789.4h1.5V818.7h-1.5ZM75.82 786.2h1.5V801.7h-1.5ZM81.87 769.2h1.5V792.8h-1.5ZM90.94 793.3h1.5V809.6h-1.5ZM96.98 793.3h1.5V807.8h-1.5ZM103.03 782.4h1.5V807.8h-1.5ZM106.06 768.5h1.5V786.7h-1.5ZM109.08 763.1h1.5V781.7h-1.5ZM112.10 745.2h1.5V766.7h-1.5ZM115.13 747.4h1.5V764.5h-1.5ZM121.17 755.2h1.5V767.6h-1.5ZM124.20 745.2h1.5V764.9h-1.5ZM139.31 795.7h1.5V833.3h-1.5ZM142.34 757.0h1.5V804.5h-1.5ZM145.36 753.2h1.5V774.4h-1.5ZM148.38 740.7h1.5V758.0h-1.5ZM157.45 811.0h1.5V835.6h-1.5ZM163.50 813.2h1.5V848.4h-1.5ZM166.52 794.3h1.5V826.8h-1.5ZM172.57 783.1h1.5V816.0h-1.5ZM181.64 798.9h1.5V822.2h-1.5ZM184.67 789.5h1.5V810.5h-1.5ZM187.69 775.6h1.5V803.5h-1.5ZM190.71 781.7h1.5V791.9h-1.5ZM193.74 750.7h1.5V788.7h-1.5ZM196.76 749.0h1.5V774.2h-1.5ZM199.78 733.7h1.5V763.6h-1.5ZM202.81 725.9h1.5V751.0h-1.5ZM205.83 720.3h1.5V749.3h-1.5ZM211.88 711.4h1.5V753.2h-1.5ZM217.92 734.7h1.5V751.8h-1.5ZM220.95 715.8h1.5V742.3h-1.5ZM230.02 719.7h1.5V738.4h-1.5ZM233.04 717.9h1.5V734.7h-1.5ZM236.07 704.9h1.5V730.1h-1.5ZM242.11 701.9h1.5V734.7h-1.5ZM245.14 701.2h1.5V714.4h-1.5ZM1424.30 639.9h1.5V652.7h-1.5ZM1427.32 632.1h1.5V651.1h-1.5ZM1430.35 626.8h1.5V639.5h-1.5ZM1436.39 633.5h1.5V652.7h-1.5ZM1445.47 639.9h1.5V660.5h-1.5ZM1460.58 663.0h1.5V670.5h-1.5ZM1466.63 661.7h1.5V671.8h-1.5ZM1469.65 657.8h1.5V672.6h-1.5ZM1472.68 650.0h1.5V668.2h-1.5ZM1475.70 643.3h1.5V660.3h-1.5ZM1478.72 639.9h1.5V655.0h-1.5ZM1481.75 599.3h1.5V655.0h-1.5ZM1487.79 609.5h1.5V671.3h-1.5ZM1493.84 595.0h1.5V634.7h-1.5ZM1496.86 584.9h1.5V606.0h-1.5ZM1502.91 585.5h1.5V604.3h-1.5ZM1505.94 581.1h1.5V594.7h-1.5ZM1508.96 575.4h1.5V596.0h-1.5ZM1557.33 478.0h1.5V516.7h-1.5ZM1563.38 483.4h1.5V507.4h-1.5ZM1569.43 513.4h1.5V545.5h-1.5ZM1572.45 494.3h1.5V531.7h-1.5ZM1578.50 485.6h1.5V522.5h-1.5ZM1515.01 506.3h1.5V594.8h-1.5ZM1518.03 380.9h1.5V554.8h-1.5ZM1530.12 448.2h1.5V473.0h-1.5ZM1533.15 433.3h1.5V472.0h-1.5ZM1539.19 444.4h1.5V473.0h-1.5ZM1551.29 450.5h1.5V471.1h-1.5ZM1590.59 517.2h1.5V538.2h-1.5ZM1593.62 481.0h1.5V527.4h-1.5ZM1596.64 467.2h1.5V496.5h-1.5ZM1608.73 481.8h1.5V516.7h-1.5ZM1611.76 469.3h1.5V489.4h-1.5ZM1614.78 445.4h1.5V480.6h-1.5ZM1617.80 431.4h1.5V461.5h-1.5ZM1620.83 400.3h1.5V444.6h-1.5ZM1623.85 386.2h1.5V412.2h-1.5ZM1626.88 333.3h1.5V392.5h-1.5ZM1629.90 335.2h1.5V362.8h-1.5ZM1641.99 353.8h1.5V370.3h-1.5ZM1648.04 363.9h1.5V383.5h-1.5ZM1651.06 346.0h1.5V370.9h-1.5ZM1663.16 344.4h1.5V373.9h-1.5ZM1666.18 343.0h1.5V355.3h-1.5ZM1672.23 332.4h1.5V362.5h-1.5ZM1678.27 350.8h1.5V370.9h-1.5ZM1681.30 339.1h1.5V360.9h-1.5ZM1684.32 324.0h1.5V347.8h-1.5ZM1687.35 297.2h1.5V329.6h-1.5ZM1690.37 278.3h1.5V305.5h-1.5ZM1696.42 281.6h1.5V305.5h-1.5ZM1699.44 277.1h1.5V298.8h-1.5ZM1708.51 286.3h1.5V301.3h-1.5ZM1711.53 270.8h1.5V297.6h-1.5ZM1714.56 254.5h1.5V282.5h-1.5ZM1717.58 244.4h1.5V272.4h-1.5ZM1720.60 239.4h1.5V266.5h-1.5ZM1723.63 209.6h1.5V246.4h-1.5ZM1729.67 215.5h1.5V248.6h-1.5ZM1732.70 212.5h1.5V230.6h-1.5ZM1735.72 204.2h1.5V244.8h-1.5ZM1738.74 169.0h1.5V216.5h-1.5ZM1747.82 229.1h1.5V267.0h-1.5ZM1750.84 226.0h1.5V260.3h-1.5ZM248.16 702.1h1.5V714.5h-1.5ZM251.18 695.7h1.5V707.7h-1.5ZM260.25 667.1h1.5V704.5h-1.5ZM272.35 671.5h1.5V709.1h-1.5ZM278.39 678.7h1.5V698.6h-1.5ZM287.47 678.4h1.5V700.5h-1.5ZM290.49 668.3h1.5V695.3h-1.5ZM293.51 654.5h1.5V676.4h-1.5ZM302.58 664.2h1.5V681.8h-1.5ZM305.61 650.7h1.5V671.8h-1.5ZM314.68 656.9h1.5V674.5h-1.5ZM317.70 643.7h1.5V664.4h-1.5ZM320.72 634.4h1.5V651.0h-1.5ZM323.75 599.3h1.5V638.6h-1.5ZM335.84 671.5h1.5V698.4h-1.5ZM338.86 654.5h1.5V688.4h-1.5ZM341.89 629.1h1.5V661.3h-1.5ZM353.98 659.1h1.5V682.6h-1.5ZM357.01 613.2h1.5V664.4h-1.5ZM363.05 599.3h1.5V631.8h-1.5ZM257.23 700.3h1.5V732.5h-1.5ZM369.10 587.1h1.5V620.8h-1.5ZM372.12 584.7h1.5V612.5h-1.5ZM381.19 652.0h1.5V692.8h-1.5ZM396.31 725.8h1.5V777.7h-1.5ZM444.69 1027.0h1.5V1071.6h-1.5ZM471.90 1024.2h1.5V1078.4h-1.5ZM474.92 996.3h1.5V1048.0h-1.5ZM426.55 1014.9h1.5V1126.5h-1.5ZM435.62 1043.0h1.5V1101.6h-1.5ZM441.66 1057.8h1.5V1101.6h-1.5ZM453.76 1064.8h1.5V1171.0h-1.5ZM462.83 1103.0h1.5V1128.0h-1.5ZM465.85 1064.0h1.5V1130.2h-1.5ZM487.02 1035.2h1.5V1062.9h-1.5ZM490.04 997.1h1.5V1048.8h-1.5ZM499.11 981.3h1.5V1017.8h-1.5ZM502.13 975.6h1.5V1001.9h-1.5ZM505.16 969.2h1.5V989.9h-1.5ZM511.20 970.1h1.5V1002.6h-1.5ZM514.23 960.9h1.5V982.2h-1.5ZM520.27 974.0h1.5V1015.7h-1.5ZM529.35 983.4h1.5V1020.7h-1.5ZM532.37 976.3h1.5V1000.0h-1.5ZM538.42 968.6h1.5V997.9h-1.5ZM544.46 970.1h1.5V984.9h-1.5ZM550.51 964.0h1.5V978.5h-1.5ZM553.53 962.2h1.5V983.1h-1.5ZM559.58 955.6h1.5V975.4h-1.5ZM562.60 954.1h1.5V963.8h-1.5ZM565.63 950.2h1.5V961.6h-1.5ZM568.65 930.0h1.5V953.4h-1.5ZM571.67 932.1h1.5V941.2h-1.5ZM574.70 889.5h1.5V940.3h-1.5ZM577.72 871.0h1.5V899.7h-1.5ZM583.77 878.0h1.5V908.8h-1.5ZM589.81 881.0h1.5V892.8h-1.5ZM592.84 876.3h1.5V897.6h-1.5ZM601.91 884.9h1.5V899.7h-1.5ZM610.98 891.3h1.5V908.8h-1.5ZM614.00 871.8h1.5V901.7h-1.5ZM623.07 880.4h1.5V892.8h-1.5ZM632.14 885.8h1.5V897.0h-1.5ZM638.19 896.1h1.5V909.4h-1.5ZM644.24 890.4h1.5V909.4h-1.5ZM647.26 871.8h1.5V899.7h-1.5ZM650.28 874.3h1.5V889.7h-1.5ZM656.33 913.1h1.5V927.6h-1.5ZM662.38 897.2h1.5V916.2h-1.5ZM665.40 895.0h1.5V910.7h-1.5ZM668.43 885.0h1.5V908.8h-1.5ZM671.45 879.2h1.5V886.8h-1.5ZM680.52 882.3h1.5V889.2h-1.5ZM683.54 874.2h1.5V889.2h-1.5ZM689.59 877.2h1.5V885.3h-1.5ZM695.64 880.3h1.5V888.3h-1.5ZM698.66 871.6h1.5V881.4h-1.5ZM701.68 859.3h1.5V879.7h-1.5ZM704.71 839.2h1.5V864.4h-1.5ZM707.73 844.0h1.5V856.6h-1.5ZM710.75 830.6h1.5V851.0h-1.5ZM716.80 839.2h1.5V844.6h-1.5ZM725.87 845.5h1.5V879.0h-1.5ZM734.94 864.1h1.5V883.6h-1.5ZM740.99 869.1h1.5V886.8h-1.5ZM750.06 878.1h1.5V891.5h-1.5ZM756.11 867.1h1.5V892.4h-1.5ZM777.27 905.1h1.5V957.5h-1.5ZM780.30 891.2h1.5V915.6h-1.5ZM783.32 871.6h1.5V906.1h-1.5ZM786.34 862.3h1.5V879.0h-1.5ZM801.46 878.6h1.5V903.0h-1.5ZM807.51 891.6h1.5V910.0h-1.5ZM819.60 923.7h1.5V949.8h-1.5ZM828.67 936.3h1.5V962.8h-1.5ZM849.84 1013.3h1.5V1039.1h-1.5ZM852.86 1006.0h1.5V1041.9h-1.5ZM855.88 994.0h1.5V1031.7h-1.5ZM861.93 1001.0h1.5V1029.3h-1.5ZM864.95 985.5h1.5V1013.6h-1.5ZM871.00 976.4h1.5V998.4h-1.5ZM877.05 975.0h1.5V995.4h-1.5ZM886.12 975.5h1.5V991.2h-1.5ZM901.24 970.2h1.5V993.6h-1.5ZM907.28 937.0h1.5V987.7h-1.5ZM910.31 906.7h1.5V940.2h-1.5ZM916.35 905.0h1.5V924.0h-1.5ZM919.38 878.6h1.5V911.4h-1.5ZM922.40 880.1h1.5V896.0h-1.5ZM928.45 890.4h1.5V916.5h-1.5ZM940.54 871.1h1.5V926.4h-1.5ZM943.56 866.3h1.5V883.7h-1.5ZM946.59 858.4h1.5V875.3h-1.5ZM952.63 855.2h1.5V875.3h-1.5ZM958.68 854.0h1.5V877.7h-1.5ZM967.75 870.2h1.5V902.6h-1.5ZM970.78 866.2h1.5V885.9h-1.5ZM976.82 857.0h1.5V875.0h-1.5ZM982.87 855.3h1.5V880.5h-1.5ZM985.89 836.9h1.5V863.7h-1.5ZM988.92 836.1h1.5V850.5h-1.5ZM994.96 832.3h1.5V849.6h-1.5ZM997.99 819.1h1.5V842.6h-1.5ZM1004.03 828.4h1.5V840.3h-1.5ZM1007.06 818.3h1.5V833.4h-1.5ZM1019.15 837.6h1.5V857.4h-1.5ZM1025.20 832.3h1.5V853.5h-1.5ZM1031.25 830.9h1.5V846.3h-1.5ZM1034.27 836.2h1.5V851.0h-1.5ZM1040.32 837.7h1.5V857.2h-1.5ZM1043.34 817.2h1.5V838.6h-1.5ZM1061.48 867.0h1.5V883.8h-1.5ZM1064.50 857.0h1.5V877.5h-1.5ZM1076.60 837.6h1.5V866.7h-1.5ZM1079.62 822.2h1.5V843.5h-1.5ZM1082.65 817.2h1.5V828.5h-1.5ZM1085.67 814.3h1.5V827.0h-1.5ZM1088.69 816.1h1.5V833.5h-1.5ZM1097.76 830.4h1.5V842.6h-1.5ZM1103.81 817.2h1.5V845.8h-1.5ZM1106.83 799.5h1.5V821.7h-1.5ZM1112.88 798.1h1.5V830.8h-1.5ZM1121.95 815.2h1.5V833.4h-1.5ZM1140.09 859.4h1.5V891.6h-1.5ZM1143.12 851.7h1.5V864.4h-1.5ZM1146.14 839.4h1.5V868.9h-1.5ZM1149.16 824.5h1.5V845.5h-1.5ZM1155.21 827.0h1.5V853.5h-1.5ZM1161.26 826.3h1.5V856.7h-1.5ZM1167.30 832.5h1.5V858.0h-1.5ZM1170.33 828.5h1.5V848.5h-1.5ZM1173.35 786.5h1.5V838.5h-1.5ZM1176.37 790.4h1.5V808.8h-1.5ZM1179.40 774.2h1.5V803.4h-1.5ZM1182.42 767.0h1.5V784.2h-1.5ZM1188.47 739.4h1.5V781.2h-1.5ZM1194.51 731.3h1.5V779.3h-1.5ZM1197.54 715.9h1.5V746.1h-1.5ZM1200.56 697.9h1.5V732.3h-1.5ZM1203.59 661.4h1.5V706.2h-1.5ZM1209.63 659.1h1.5V758.1h-1.5ZM1215.68 636.5h1.5V678.3h-1.5ZM1221.73 646.1h1.5V696.7h-1.5ZM1236.84 729.7h1.5V805.7h-1.5ZM1239.87 723.1h1.5V758.9h-1.5ZM1242.89 699.0h1.5V750.8h-1.5ZM1251.96 728.1h1.5V761.8h-1.5ZM1254.98 693.2h1.5V747.6h-1.5ZM1261.03 697.0h1.5V726.9h-1.5ZM1270.10 691.1h1.5V737.6h-1.5ZM1276.15 643.0h1.5V705.3h-1.5ZM1279.17 624.1h1.5V658.4h-1.5ZM1285.22 625.1h1.5V654.6h-1.5ZM1291.27 635.2h1.5V655.5h-1.5ZM1294.29 612.6h1.5V644.0h-1.5ZM1297.31 603.1h1.5V626.1h-1.5ZM1312.43 664.7h1.5V695.5h-1.5ZM1321.50 668.6h1.5V691.7h-1.5ZM1324.53 663.2h1.5V691.4h-1.5ZM1327.55 666.3h1.5V694.6h-1.5ZM1333.60 663.2h1.5V680.5h-1.5ZM1339.64 668.5h1.5V693.8h-1.5ZM1342.67 657.7h1.5V692.5h-1.5ZM1345.69 651.2h1.5V670.3h-1.5ZM1348.71 648.4h1.5V667.8h-1.5ZM1354.76 654.4h1.5V687.5h-1.5ZM1357.78 650.9h1.5V668.2h-1.5ZM1360.81 658.4h1.5V677.4h-1.5ZM1369.88 678.0h1.5V716.8h-1.5ZM1375.92 676.2h1.5V699.2h-1.5ZM1378.95 656.1h1.5V688.3h-1.5ZM1385.00 656.1h1.5V682.0h-1.5ZM1391.04 636.1h1.5V665.1h-1.5ZM1394.07 621.3h1.5V644.8h-1.5ZM1409.18 641.4h1.5V671.6h-1.5ZM1415.23 632.2h1.5V646.4h-1.5Z" fill="#03886D"/>
<path d="M15.35 818.0h1.5V830.7h-1.5ZM18.37 815.3h1.5V826.6h-1.5ZM30.47 798.9h1.5V821.8h-1.5ZM36.51 805.1h1.5V820.0h-1.5ZM39.54 807.1h1.5V818.7h-1.5ZM42.56 813.4h1.5V823.2h-1.5ZM48.61 808.9h1.5V829.6h-1.5ZM54.66 818.2h1.5V827.1h-1.5ZM57.68 821.2h1.5V847.9h-1.5ZM72.80 790.3h1.5V802.4h-1.5ZM78.84 786.2h1.5V801.7h-1.5ZM84.89 782.4h1.5V806.9h-1.5ZM87.91 799.4h1.5V812.5h-1.5ZM93.96 792.0h1.5V808.5h-1.5ZM100.01 787.1h1.5V799.4h-1.5ZM118.15 753.1h1.5V768.1h-1.5ZM127.22 748.1h1.5V777.6h-1.5ZM130.24 774.0h1.5V805.3h-1.5ZM133.27 784.9h1.5V812.1h-1.5ZM136.29 802.6h1.5V847.0h-1.5ZM151.41 743.0h1.5V781.1h-1.5ZM154.43 771.7h1.5V833.8h-1.5ZM160.48 806.5h1.5V828.6h-1.5ZM169.55 792.6h1.5V809.6h-1.5ZM175.60 787.0h1.5V816.6h-1.5ZM178.62 801.2h1.5V823.6h-1.5ZM208.85 708.8h1.5V747.2h-1.5ZM214.90 723.1h1.5V750.0h-1.5ZM223.97 712.8h1.5V747.2h-1.5ZM226.99 723.1h1.5V740.3h-1.5ZM239.09 700.2h1.5V722.5h-1.5ZM1418.25 628.2h1.5V645.8h-1.5ZM1421.28 639.1h1.5V650.4h-1.5ZM1433.37 631.1h1.5V648.7h-1.5ZM1439.42 624.3h1.5V646.4h-1.5ZM1442.44 637.4h1.5V662.5h-1.5ZM1448.49 641.2h1.5V650.4h-1.5ZM1451.51 643.3h1.5V661.7h-1.5ZM1454.54 657.1h1.5V667.6h-1.5ZM1457.56 657.1h1.5V671.3h-1.5ZM1463.61 663.0h1.5V675.9h-1.5ZM1484.77 615.1h1.5V655.6h-1.5ZM1490.82 587.2h1.5V625.4h-1.5ZM1499.89 585.5h1.5V619.4h-1.5ZM1511.98 567.8h1.5V587.8h-1.5ZM1560.36 476.4h1.5V534.6h-1.5ZM1566.41 485.0h1.5V545.5h-1.5ZM1575.48 488.9h1.5V526.3h-1.5ZM1581.52 481.1h1.5V519.0h-1.5ZM1521.05 366.2h1.5V476.6h-1.5ZM1524.08 431.2h1.5V475.2h-1.5ZM1527.10 438.0h1.5V478.7h-1.5ZM1536.17 438.9h1.5V473.4h-1.5ZM1542.22 443.5h1.5V471.1h-1.5ZM1545.24 439.8h1.5V461.6h-1.5ZM1548.26 441.2h1.5V473.0h-1.5ZM1554.31 453.9h1.5V501.3h-1.5ZM1584.55 506.0h1.5V532.8h-1.5ZM1587.57 521.1h1.5V536.7h-1.5ZM1599.66 473.2h1.5V505.5h-1.5ZM1602.69 499.6h1.5V526.0h-1.5ZM1605.71 482.5h1.5V512.3h-1.5ZM1632.92 337.4h1.5V378.7h-1.5ZM1635.95 340.4h1.5V363.4h-1.5ZM1638.97 348.2h1.5V370.9h-1.5ZM1645.02 351.4h1.5V377.0h-1.5ZM1654.09 346.0h1.5V369.8h-1.5ZM1657.11 354.5h1.5V371.7h-1.5ZM1660.13 353.0h1.5V377.3h-1.5ZM1669.20 319.0h1.5V363.4h-1.5ZM1675.25 333.5h1.5V366.8h-1.5ZM1693.39 274.6h1.5V307.2h-1.5ZM1702.46 263.3h1.5V292.5h-1.5ZM1705.49 283.4h1.5V301.3h-1.5ZM1726.65 206.5h1.5V250.7h-1.5ZM1741.77 167.8h1.5V210.5h-1.5ZM1744.79 205.0h1.5V267.8h-1.5ZM263.28 674.8h1.5V688.8h-1.5ZM266.30 673.0h1.5V695.7h-1.5ZM269.32 681.8h1.5V701.3h-1.5ZM275.37 688.1h1.5V707.7h-1.5ZM281.42 680.0h1.5V691.1h-1.5ZM284.44 680.8h1.5V702.3h-1.5ZM296.54 656.2h1.5V668.6h-1.5ZM299.56 657.6h1.5V672.8h-1.5ZM308.63 654.0h1.5V680.6h-1.5ZM311.65 654.5h1.5V678.4h-1.5ZM326.77 612.9h1.5V657.9h-1.5ZM329.79 643.7h1.5V697.9h-1.5ZM332.82 663.0h1.5V689.6h-1.5ZM344.91 643.5h1.5V688.4h-1.5ZM347.94 667.9h1.5V692.3h-1.5ZM350.96 670.9h1.5V694.7h-1.5ZM360.03 614.9h1.5V634.7h-1.5ZM254.21 703.4h1.5V733.8h-1.5ZM366.08 604.2h1.5V639.4h-1.5ZM375.15 559.0h1.5V611.5h-1.5ZM378.17 593.2h1.5V675.0h-1.5ZM384.22 636.7h1.5V721.6h-1.5ZM387.24 710.0h1.5V752.6h-1.5ZM390.26 716.0h1.5V741.0h-1.5ZM393.29 725.0h1.5V771.4h-1.5ZM399.33 725.0h1.5V785.0h-1.5ZM402.36 763.7h1.5V813.3h-1.5ZM405.38 806.3h1.5V849.6h-1.5ZM408.41 821.2h1.5V882.0h-1.5ZM411.43 811.2h1.5V893.5h-1.5ZM414.45 876.5h1.5V996.0h-1.5ZM417.48 979.5h1.5V1055.7h-1.5ZM429.57 985.0h1.5V1079.7h-1.5ZM432.59 1038.9h1.5V1082.9h-1.5ZM477.95 985.0h1.5V1038.7h-1.5ZM480.97 1022.0h1.5V1063.0h-1.5ZM420.50 1017.0h1.5V1118.7h-1.5ZM423.52 1054.8h1.5V1145.5h-1.5ZM438.64 1052.0h1.5V1110.9h-1.5ZM447.71 1054.8h1.5V1126.5h-1.5ZM450.73 1099.0h1.5V1194.6h-1.5ZM456.78 1055.0h1.5V1093.5h-1.5ZM459.80 1076.6h1.5V1133.2h-1.5ZM468.88 1063.0h1.5V1095.2h-1.5ZM483.99 1033.9h1.5V1062.0h-1.5ZM493.06 981.3h1.5V1017.1h-1.5ZM496.09 997.1h1.5V1020.7h-1.5ZM508.18 964.0h1.5V982.2h-1.5ZM517.25 961.6h1.5V1005.5h-1.5ZM523.30 969.2h1.5V1007.8h-1.5ZM526.32 990.1h1.5V1010.9h-1.5ZM535.39 973.1h1.5V994.0h-1.5ZM541.44 965.6h1.5V987.0h-1.5ZM547.49 965.6h1.5V983.1h-1.5ZM556.56 958.6h1.5V972.8h-1.5ZM580.74 888.1h1.5V910.8h-1.5ZM586.79 868.6h1.5V891.7h-1.5ZM595.86 879.5h1.5V899.7h-1.5ZM598.89 884.3h1.5V897.6h-1.5ZM604.93 884.9h1.5V896.3h-1.5ZM607.96 888.1h1.5V920.8h-1.5ZM617.03 865.4h1.5V892.6h-1.5ZM620.05 882.5h1.5V890.7h-1.5ZM626.10 881.9h1.5V896.3h-1.5ZM629.12 889.0h1.5V896.7h-1.5ZM635.17 893.4h1.5V907.0h-1.5ZM641.21 895.8h1.5V918.8h-1.5ZM653.31 884.3h1.5V920.1h-1.5ZM659.36 900.4h1.5V918.8h-1.5ZM674.47 874.9h1.5V892.4h-1.5ZM677.50 879.4h1.5V889.8h-1.5ZM686.57 873.4h1.5V885.3h-1.5ZM692.61 878.3h1.5V883.6h-1.5ZM713.78 832.1h1.5V845.7h-1.5ZM719.83 838.1h1.5V861.9h-1.5ZM722.85 854.8h1.5V884.5h-1.5ZM728.90 843.2h1.5V864.9h-1.5ZM731.92 858.2h1.5V879.7h-1.5ZM737.97 867.1h1.5V891.5h-1.5ZM744.01 869.1h1.5V883.6h-1.5ZM747.04 868.0h1.5V887.6h-1.5ZM753.08 879.0h1.5V892.4h-1.5ZM759.13 839.2h1.5V892.4h-1.5ZM762.15 872.3h1.5V916.9h-1.5ZM765.18 882.0h1.5V906.5h-1.5ZM768.20 897.0h1.5V937.8h-1.5ZM771.23 922.3h1.5V940.4h-1.5ZM774.25 919.1h1.5V965.1h-1.5ZM789.37 862.3h1.5V880.4h-1.5ZM792.39 867.9h1.5V886.6h-1.5ZM795.41 877.2h1.5V891.6h-1.5ZM798.44 879.3h1.5V900.0h-1.5ZM804.48 882.4h1.5V905.5h-1.5ZM810.53 898.8h1.5V928.9h-1.5ZM813.55 922.3h1.5V949.8h-1.5ZM816.58 928.2h1.5V949.8h-1.5ZM822.62 932.3h1.5V964.4h-1.5ZM825.65 936.8h1.5V961.7h-1.5ZM831.69 934.4h1.5V958.2h-1.5ZM834.72 940.0h1.5V984.7h-1.5ZM837.74 952.6h1.5V995.8h-1.5ZM840.77 988.2h1.5V1021.0h-1.5ZM843.79 999.1h1.5V1027.3h-1.5ZM846.81 1013.0h1.5V1041.9h-1.5ZM858.91 1011.2h1.5V1031.4h-1.5ZM867.98 981.2h1.5V993.6h-1.5ZM874.02 979.7h1.5V999.0h-1.5ZM880.07 956.3h1.5V985.7h-1.5ZM883.09 983.5h1.5V997.8h-1.5ZM889.14 979.4h1.5V1001.3h-1.5ZM892.16 981.8h1.5V990.7h-1.5ZM895.19 981.8h1.5V996.6h-1.5ZM898.21 984.1h1.5V996.6h-1.5ZM904.26 958.0h1.5V987.7h-1.5ZM913.33 898.1h1.5V930.2h-1.5ZM925.42 883.3h1.5V903.8h-1.5ZM931.47 868.5h1.5V892.8h-1.5ZM934.49 892.0h1.5V908.6h-1.5ZM937.52 898.1h1.5V936.7h-1.5ZM949.61 857.8h1.5V875.3h-1.5ZM955.66 853.0h1.5V881.5h-1.5ZM961.71 854.5h1.5V879.7h-1.5ZM964.73 867.0h1.5V896.0h-1.5ZM973.80 854.1h1.5V875.8h-1.5ZM979.85 861.6h1.5V887.6h-1.5ZM991.94 836.1h1.5V851.1h-1.5ZM1001.01 824.3h1.5V840.3h-1.5ZM1010.08 823.1h1.5V834.8h-1.5ZM1013.11 815.1h1.5V833.7h-1.5ZM1016.13 830.9h1.5V851.8h-1.5ZM1022.18 838.4h1.5V861.2h-1.5ZM1028.22 834.0h1.5V851.0h-1.5ZM1037.29 834.0h1.5V855.5h-1.5ZM1046.36 820.6h1.5V854.7h-1.5ZM1049.39 845.3h1.5V865.0h-1.5ZM1052.41 847.8h1.5V860.4h-1.5ZM1055.43 839.2h1.5V874.6h-1.5ZM1058.46 865.0h1.5V886.7h-1.5ZM1067.53 855.3h1.5V868.3h-1.5ZM1070.55 854.5h1.5V864.1h-1.5ZM1073.57 857.1h1.5V874.4h-1.5ZM1091.72 810.4h1.5V834.3h-1.5ZM1094.74 823.7h1.5V841.9h-1.5ZM1100.79 830.6h1.5V840.3h-1.5ZM1109.86 811.0h1.5V832.5h-1.5ZM1115.90 799.5h1.5V827.0h-1.5ZM1118.93 803.4h1.5V834.6h-1.5ZM1124.97 816.8h1.5V844.9h-1.5ZM1128.00 841.5h1.5V882.1h-1.5ZM1131.02 847.2h1.5V876.6h-1.5ZM1134.04 847.2h1.5V873.5h-1.5ZM1137.07 864.8h1.5V905.7h-1.5ZM1152.19 824.5h1.5V852.6h-1.5ZM1158.23 827.0h1.5V852.6h-1.5ZM1164.28 819.9h1.5V853.5h-1.5ZM1185.44 768.6h1.5V785.0h-1.5ZM1191.49 731.3h1.5V766.1h-1.5ZM1206.61 665.2h1.5V693.6h-1.5ZM1212.66 653.7h1.5V685.7h-1.5ZM1218.70 610.4h1.5V690.6h-1.5ZM1224.75 658.3h1.5V684.1h-1.5ZM1227.77 649.9h1.5V705.2h-1.5ZM1230.80 682.6h1.5V772.7h-1.5ZM1233.82 703.6h1.5V810.3h-1.5ZM1245.91 696.5h1.5V737.6h-1.5ZM1248.94 711.2h1.5V757.0h-1.5ZM1258.01 688.0h1.5V730.0h-1.5ZM1264.06 683.2h1.5V728.4h-1.5ZM1267.08 682.3h1.5V749.5h-1.5ZM1273.13 688.0h1.5V714.6h-1.5ZM1282.20 628.3h1.5V664.3h-1.5ZM1288.24 634.2h1.5V666.6h-1.5ZM1300.34 618.2h1.5V644.6h-1.5ZM1303.36 624.1h1.5V641.5h-1.5ZM1306.38 633.7h1.5V664.3h-1.5ZM1309.41 643.7h1.5V692.3h-1.5ZM1315.45 664.0h1.5V688.3h-1.5ZM1318.48 671.1h1.5V691.2h-1.5ZM1330.57 659.4h1.5V678.8h-1.5ZM1336.62 665.4h1.5V685.4h-1.5ZM1351.74 649.2h1.5V672.6h-1.5ZM1363.83 655.2h1.5V690.8h-1.5ZM1366.85 681.6h1.5V723.9h-1.5ZM1372.90 671.0h1.5V689.1h-1.5ZM1381.97 669.0h1.5V687.5h-1.5ZM1388.02 655.2h1.5V665.7h-1.5ZM1397.09 624.2h1.5V642.7h-1.5ZM1400.11 624.2h1.5V635.5h-1.5ZM1403.14 626.8h1.5V651.9h-1.5ZM1406.16 639.1h1.5V662.8h-1.5ZM1412.21 635.1h1.5V657.3h-1.5Z" fill="#EE1B35"/>
</g>
<g clip-path="url(#axis)" fill="#141414" font-size="19.2">
<text x="1797" y="51.2" textLength="91" lengthAdjust="spacing">3,960.000</text>
<text x="1797" y="132.8" textLength="91" lengthAdjust="spacing">3,950.000</text>
<text x="1797" y="214.3" textLength="91" lengthAdjust="spacing">3,940.000</text>
<text x="1797" y="295.8" textLength="91" lengthAdjust="spacing">3,930.000</text>
<text x="1797" y="377.3" textLength="91" lengthAdjust="spacing">3,920.000</text>
<text x="1797" y="458.8" textLength="91" lengthAdjust="spacing">3,910.000</text>
<text x="1797" y="540.3" textLength="91" lengthAdjust="spacing">3,900.000</text>
<text x="1797" y="621.9" textLength="91" lengthAdjust="spacing">3,890.000</text>
<text x="1797" y="703.4" textLength="91" lengthAdjust="spacing">3,880.000</text>
<text x="1797" y="784.9" textLength="91" lengthAdjust="spacing">3,870.000</text>
<text x="1797" y="866.4" textLength="91" lengthAdjust="spacing">3,860.000</text>
<text x="1797" y="947.9" textLength="91" lengthAdjust="spacing">3,850.000</text>
<text x="1797" y="1029.4" textLength="91" lengthAdjust="spacing">3,840.000</text>
<text x="1797" y="1110.9" textLength="91" lengthAdjust="spacing">3,830.000</text>
<text x="1797" y="1192.5" textLength="91" lengthAdjust="spacing">3,820.000</text>
<text x="1797" y="1274.0" textLength="91" lengthAdjust="spacing">3,810.000</text>
</g>
<path d="M1785 224H1896a2 2 0 0 1 2 2V248a2 2 0 0 1 -2 2H1785Z" fill="#089981"/>
<text x="1797" y="242.9" font-size="19.2" fill="#fff" textLength="91" lengthAdjust="spacing">3,936.520</text>
<path d="M1785 1200.5H1857.5a2 2 0 0 1 2 2V1224.7a2 2 0 0 1 -2 2H1785Z" fill="#26A69A"/>
<text x="1796.6" y="1219.8" font-size="19.2" fill="#fff" textLength="54" lengthAdjust="spacing">4.88 K</text>
<g font-size="19.2">
<text x="28.8" y="72.7" fill="#141414" textLength="207.5" lengthAdjust="spacing">Vàng / Đô la Mỹ · 5 · ICE</text>
<text x="248.8" y="72.7" fill="#141414">O</text>
<text x="263.8" y="72.7" fill="#089981" textLength="87.5" lengthAdjust="spacing">3,934.769</text>
<text x="363" y="72.7" fill="#141414">H</text>
<text x="377.5" y="72.7" fill="#089981" textLength="86.3" lengthAdjust="spacing">3,937.930</text>
<text x="476.3" y="72.7" fill="#141414">L</text>
<text x="486.3" y="72.7" fill="#089981" textLength="87.5" lengthAdjust="spacing">3,933.675</text>
<text x="585.5" y="72.7" fill="#141414">C</text>
<text x="599.3" y="72.7" fill="#089981" textLength="88.2" lengthAdjust="spacing">3,936.520</text>
<text x="700" y="72.7" fill="#089981" textLength="143.8" lengthAdjust="spacing">+1.762 (+0.04%)</text>
<text x="28.8" y="98.9" fill="#141414" textLength="91.2" lengthAdjust="spacing">Khối lượng</text>
<text x="132" y="98.9" fill="#26A69A" textLength="53" lengthAdjust="spacing">4.88 K</text>
</g>
<g font-size="19.2" fill="#141414" text-anchor="middle">
<text x="67.8" y="1325.8" textLength="49.5" lengthAdjust="spacing">12:00</text>
<text x="176.6" y="1325.8" textLength="49.5" lengthAdjust="spacing">15:00</text>
<text x="285.5" y="1325.8" textLength="49.5" lengthAdjust="spacing">18:00</text>
<text x="394.3" y="1325.8" textLength="49.5" lengthAdjust="spacing">21:00</text>
<text x="503.2" y="1325.8">3</text>
<text x="593.9" y="1325.8" textLength="49.5" lengthAdjust="spacing">02:30</text>
<text x="684.6" y="1325.8" textLength="49.5" lengthAdjust="spacing">06:00</text>
<text x="793.4" y="1325.8" textLength="49.5" lengthAdjust="spacing">09:00</text>
<text x="902.3" y="1325.8" textLength="49.5" lengthAdjust="spacing">12:00</text>
<text x="1011.1" y="1325.8" textLength="49.5" lengthAdjust="spacing">15:00</text>
<text x="1120.0" y="1325.8" textLength="49.5" lengthAdjust="spacing">18:00</text>
<text x="1228.8" y="1325.8" textLength="49.5" lengthAdjust="spacing">21:00</text>
<text x="1337.7" y="1325.8">4</text>
<text x="1627.9" y="1325.8" textLength="49.5" lengthAdjust="spacing">09:00</text>
<text x="1736.8" y="1325.8" textLength="49.5" lengthAdjust="spacing">12:00</text>
<text x="1482.5" y="1325.8" font-weight="bold">6</text>
</g>
<g fill="#141414">
<path d="M19 1374H37V1397.3H28V1382.6H19Z"/>
<circle cx="44.5" cy="1378.4" r="4.3"/>
<path d="M53.6 1374H64.9L56.4 1397.3H45.2Z"/>
<path d="M76 1374.1h16.9v4.4h-16.9Z M82.1 1374.1h4.7v22.9h-4.7Z M93.2 1380.1h4.3v16.9h-4.3Z M116.6 1380.1h4.2v16.9h-4.2Z M136.7 1374h4.1v23h-4.1Z M144.2 1380.1h4.4v16.9h-4.4Z M152 1380h4.4v17h-4.4Z M212.3 1380.5h4.6v16.7h-4.6Z M187.1 1374.2H191.8L199.75 1392.4L205.7 1374.2H210.4L202.2 1397.2H197.3Z"/>
<g fill="none" stroke="#141414" stroke-width="4.2">
<path d="M95.4 1390C95.4 1384.5 98.5 1382.3 102.9 1382.3" stroke-width="4.3"/>
<circle cx="112.3" cy="1388.6" r="6.7"/><circle cx="132.5" cy="1388.6" r="6.7"/><circle cx="179.4" cy="1388.1" r="6.6"/>
<path d="M154.2 1397V1387.6A5.35 5.35 0 0 1 164.9 1387.6V1397" stroke-width="4.3"/>
<path d="M185.6 1380V1396C185.6 1401.8 182 1404.2 177.5 1404.2C174.8 1404.2 172.9 1403.2 171.6 1401.6" stroke-width="4.1"/>
<path d="M234.6 1388.2A6.3 6.3 0 1 0 233.6 1392.2"/><path d="M220.5 1388.15H236.9" stroke-width="3.9"/>
<path d="M237.2 1380.2H242.1L245.2 1389.8L247.8 1380.2H253L256.2 1389.3L257.9 1380.2H263.4L259 1397.2H254.7L250.7 1387.4L247.6 1397.2H243.2Z" fill="#141414" stroke="none"/>
</g>
<circle cx="146.5" cy="1375.9" r="2.9"/><circle cx="214.7" cy="1375.8" r="2.85"/>
</g>
</svg></body></html>
